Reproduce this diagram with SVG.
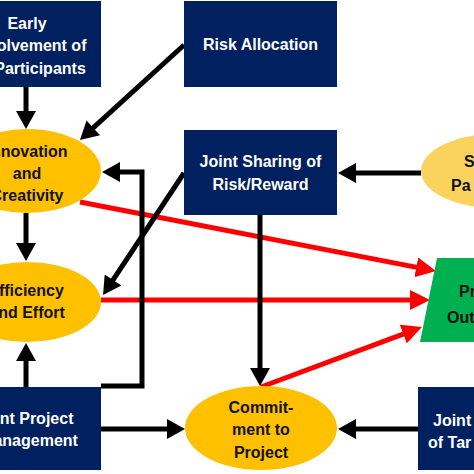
<svg xmlns="http://www.w3.org/2000/svg" width="474" height="474" viewBox="0 0 474 474">
<style>
.box{fill:#002060}
.ell{fill:#FFC000}
.ell2{fill:#F9D35E}
.out{fill:#00B050}
text{font-family:"Liberation Sans",Arial,sans-serif;font-weight:bold;font-size:16px}
.wt{fill:#FFFFFF;text-anchor:middle}
.bt{fill:#111111;text-anchor:middle}
.bs{fill:#111111;text-anchor:start}
.ws{fill:#FFFFFF;text-anchor:start}
.blk{fill:none;stroke:#000000;stroke-width:5;stroke-linejoin:miter}
.red{fill:none;stroke:#FF0000;stroke-width:5}
</style>
<defs>
<marker id="ab" markerUnits="strokeWidth" markerWidth="4" markerHeight="4" viewBox="0 0 3.6 4" refX="0.4" refY="2" orient="auto">
<path d="M0,0 L3.6,2 L0,4 z" fill="#000000"/>
</marker>
<marker id="ar" markerUnits="strokeWidth" markerWidth="4" markerHeight="4" viewBox="0 0 4 4" refX="0.4" refY="2" orient="auto">
<path d="M0,0 L4,2 L0,4 z" fill="#FF0000"/>
</marker>
</defs>
<rect x="0" y="0" width="474" height="474" fill="#FFFFFF"/>

<g id="connectors">
<line class="red" x1="80" y1="202" x2="418.3" y2="267.6" marker-end="url(#ar)"/>
<line class="red" x1="101" y1="300" x2="412" y2="300" marker-end="url(#ar)"/>
<line class="red" x1="261" y1="387" x2="405.1" y2="333.3" marker-end="url(#ar)"/>
<line class="blk" x1="26" y1="87" x2="26" y2="113" marker-end="url(#ab)"/>
<line class="blk" x1="184" y1="45" x2="91.8" y2="129.2" marker-end="url(#ab)"/>
<polyline class="blk" points="101,386 142,386 142,172 118,172" marker-end="url(#ab)"/>
<line class="blk" x1="184" y1="173" x2="111.9" y2="281.7" marker-end="url(#ab)"/>
<line class="blk" x1="26" y1="213" x2="26" y2="245" marker-end="url(#ab)"/>
<line class="blk" x1="26" y1="387" x2="26" y2="359" marker-end="url(#ab)"/>
<line class="blk" x1="101" y1="429" x2="169" y2="429" marker-end="url(#ab)"/>
<line class="blk" x1="260" y1="215" x2="260" y2="370" marker-end="url(#ab)"/>
<line class="blk" x1="421" y1="173" x2="354" y2="173" marker-end="url(#ab)"/>
<line class="blk" x1="418" y1="429" x2="354" y2="429" marker-end="url(#ab)"/>
</g>

<g id="early-involvement">
<rect class="box" x="0" y="1" width="101" height="86"/>
<text class="wt" x="27" y="29">Early</text>
<text class="wt" x="30" y="51">Involvement of</text>
<text class="wt" x="40" y="74">Participants</text>
</g>

<g id="risk-allocation">
<rect class="box" x="184" y="1" width="153" height="86"/>
<text class="wt" x="260.5" y="50">Risk Allocation</text>
</g>

<g id="innovation">
<ellipse class="ell" cx="27" cy="171" rx="74" ry="42"/>
<text class="bt" x="27" y="157">Innovation</text>
<text class="bt" x="27" y="179">and</text>
<text class="bt" x="27" y="201">Creativity</text>
</g>

<g id="joint-sharing">
<rect class="box" x="184" y="130" width="153" height="85"/>
<text class="wt" x="260.5" y="167">Joint Sharing of</text>
<text class="wt" x="260.5" y="190">Risk/Reward</text>
</g>

<g id="right-ellipse">
<ellipse class="ell2" cx="496" cy="171" rx="75" ry="37"/>
<text class="bs" x="464" y="167">S</text>
<text class="bs" x="451" y="191">Pa</text>
</g>

<g id="efficiency">
<ellipse class="ell" cx="27" cy="302" rx="74" ry="40"/>
<text class="bt" x="26" y="296">Efficiency</text>
<text class="bt" x="27" y="318">and Effort</text>
</g>

<g id="project-outcomes">
<polygon class="out" points="437,258 474,258 474,342 420,342"/>
<text class="bs" x="459" y="297">Project</text>
<text class="bs" x="447" y="323">Outcomes</text>
</g>

<g id="joint-project-management">
<rect class="box" x="0" y="387" width="101" height="83"/>
<text class="wt" x="25" y="424">Joint Project</text>
<text class="wt" x="29" y="446">Management</text>
</g>

<g id="commitment">
<ellipse class="ell" cx="261" cy="428" rx="76" ry="42"/>
<text class="bt" x="261" y="413">Commit-</text>
<text class="bt" x="261" y="435">ment to</text>
<text class="bt" x="261" y="458">Project</text>
</g>

<g id="joint-targets">
<rect class="box" x="418" y="387" width="56" height="83"/>
<text class="ws" x="433" y="426">Joint</text>
<text class="ws" x="428" y="448">of Tar</text>
</g>
</svg>
